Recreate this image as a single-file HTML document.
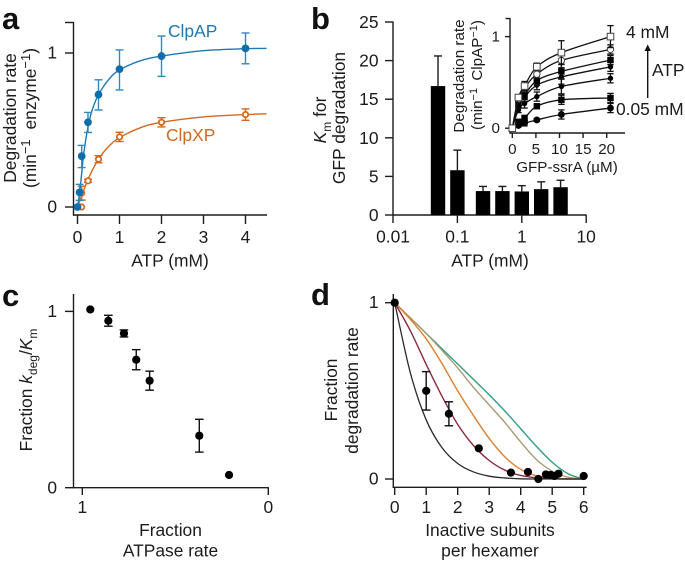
<!DOCTYPE html>
<html lang="en">
<head>
<meta charset="utf-8">
<title>ATP dependence of ClpAP and ClpXP degradation</title>
<style>
html,body{margin:0;padding:0;background:#fff;}
svg{display:block;filter:blur(.3px);}
text{font-family:"Liberation Sans",Arial,sans-serif;font-size:17.4px;fill:#1c1c1c;}
.ins{font-size:15.2px;}
.letter{font-size:31px;font-weight:bold;fill:#111;}
</style>
</head>
<body>
<svg id="fig" xmlns="http://www.w3.org/2000/svg" width="685" height="561" viewBox="0 0 685 561">
  <rect width="685" height="561" fill="#fff"/>
  <text class="letter" x="2" y="29">a</text>
  <text class="letter" x="311" y="29">b</text>
  <text class="letter" x="2" y="306">c</text>
  <text class="letter" x="311" y="305">d</text>

  <text transform="translate(16,118) rotate(-90)" text-anchor="middle">Degradation rate</text>
  <text transform="translate(36,118) rotate(-90)" text-anchor="middle">(min<tspan dy="-6" font-size="13">−1</tspan><tspan dy="6" dx="5"> enzyme</tspan><tspan dy="-6" font-size="13">−1</tspan><tspan dy="6">)</tspan></text>
  <text x="170" y="266.5" text-anchor="middle">ATP (mM)</text>
  <text x="168" y="37" style="fill:#1f78b4">ClpAP</text>
  <text x="166" y="141" style="fill:#d2691f">ClpXP</text>

  <text transform="translate(326,120) rotate(-90)" text-anchor="middle"><tspan font-style="italic">K</tspan><tspan dy="5" font-size="12">m</tspan><tspan dy="-5"> for</tspan></text>
  <text transform="translate(345,118) rotate(-90)" text-anchor="middle">GFP degradation</text>
  <text x="490" y="266.5" text-anchor="middle">ATP (mM)</text>
  <text class="ins" transform="translate(464,76) rotate(-90)" text-anchor="middle">Degradation rate</text>
  <text class="ins" transform="translate(482,75) rotate(-90)" text-anchor="middle">(min<tspan dy="-5" font-size="11">−1</tspan><tspan dy="5" dx="3"> ClpAP</tspan><tspan dy="-5" font-size="11">−1</tspan><tspan dy="5">)</tspan></text>
  <text class="ins" x="567" y="172" text-anchor="middle">GFP-ssrA (µM)</text>
  <text x="626" y="38">4 mM</text>
  <text x="616" y="115">0.05 mM</text>
  <text x="652" y="76">ATP</text>
  <line x1="647.7" y1="98" x2="647.7" y2="48" stroke="#111" stroke-width="1.4"/>
  <polygon points="647.7,44.5 644.5,51 650.9,51" fill="#111"/>

  <text transform="translate(32,390) rotate(-90)" text-anchor="middle">Fraction <tspan font-style="italic">k</tspan><tspan dy="5" font-size="12">deg</tspan><tspan dy="-5">/</tspan><tspan font-style="italic">K</tspan><tspan dy="5" font-size="12">m</tspan></text>
  <text x="170.5" y="536" text-anchor="middle">Fraction</text>
  <text x="170.5" y="556.5" text-anchor="middle">ATPase rate</text>

  <text transform="translate(337,390) rotate(-90)" text-anchor="middle">Fraction</text>
  <text transform="translate(358,390.5) rotate(-90)" text-anchor="middle">degradation rate</text>
  <text x="490" y="536" text-anchor="middle">Inactive subunits</text>
  <text x="490" y="556.5" text-anchor="middle">per hexamer</text>
</svg>
<script>
// Panel a
const aTicksX = [0, 1, 2, 3, 4];
const aTicksY = [0, 1];
const apDose = [0.05, 0.1, 0.25, 0.5, 1, 2, 4];
const apRate = [0.095, 0.33, 0.55, 0.73, 0.895, 0.98, 1.03];
const apHigh = [0.147, 0.40, 0.614, 0.826, 1.02, 1.11, 1.13];
const apLow = [0.043, 0.256, 0.484, 0.63, 0.76, 0.848, 0.93];
const apCurveX = [0, 0.05, 0.1, 0.15, 0.25, 0.35, 0.5, 0.75, 1, 1.5, 2, 3, 4, 4.5];
const apCurveY = [0, 0.09, 0.22, 0.35, 0.52, 0.63, 0.73, 0.83, 0.89, 0.95, 0.98, 1.015, 1.028, 1.03];
const xpDose = [0.05, 0.1, 0.25, 0.5, 1, 2, 4];
const xpRate = [0, 0.09, 0.17, 0.31, 0.455, 0.55, 0.6];
const xpErr = [0, 0.045, 0.01, 0.023, 0.03, 0.03, 0.037];
const xpCurveX = [0, 0.1, 0.25, 0.5, 0.75, 1, 1.5, 2, 3, 4, 4.5];
const xpCurveY = [0, 0.07, 0.18, 0.31, 0.395, 0.45, 0.515, 0.55, 0.585, 0.6, 0.605];

// Panel b
const bTicksY = [0, 5, 10, 15, 20, 25];
const bTicksX = [0.01, 0.1, 1, 10];
const bDose = [0.05, 0.1, 0.25, 0.5, 1, 2, 4];
const bKm = [16.7, 5.8, 3.1, 3.1, 3.05, 3.35, 3.6];
const bHigh = [20.6, 8.4, 3.7, 3.7, 3.8, 4.3, 4.5];

// Panel b inset
const insTicksX = [0, 5, 10, 15, 20];
const insTicksY = [0, 1];
const insConc = [0, 1.3, 2.6, 5.2, 10.4, 20.8];
const ins4mM = [0, 0.335, 0.46, 0.67, 0.825, 1.0];
const insB = [0, 0.32, 0.44, 0.59, 0.74, 0.86];
const insC = [0, 0.27, 0.36, 0.52, 0.62, 0.745];
const insD = [0, 0.25, 0.34, 0.47, 0.56, 0.67];
const insE = [0, 0.2, 0.27, 0.345, 0.455, 0.545];
const insF = [0, 0.07, 0.11, 0.24, 0.31, 0.33];
const ins005mM = [0, 0.03, 0.055, 0.09, 0.15, 0.22];
const insErr4mM = [0, 0.02, 0.05, 0.04, 0.13, 0.12];
const insErrMid = [0, 0.03, 0.05, 0.05, 0.08, 0.05];
const insErrLow = [0, 0.015, 0.03, 0.015, 0.05, 0.05];

// Panel c
const cTicksX = [1, 0];
const cTicksY = [0, 1];
const cAtpase = [0.957, 0.86, 0.776, 0.71, 0.638, 0.371, 0.211];
const cFrac = [1.011, 0.947, 0.875, 0.726, 0.607, 0.295, 0.072];
const cErr = [0, 0.031, 0.02, 0.057, 0.054, 0.093, 0];

// Panel d
const dTicksX = [0, 1, 2, 3, 4, 5, 6];
const dTicksY = [0, 1];
const dSub = [0, 1, 1.72, 2.67, 3.69, 4.23, 4.56, 4.8, 4.95, 5.07, 5.2, 6];
const dRate = [1, 0.5, 0.37, 0.174, 0.036, 0.04, 0, 0.026, 0.023, 0.017, 0.03, 0.017];
const dErr = [0, 0.109, 0.068, 0, 0, 0, 0, 0, 0, 0, 0, 0];
const dCurveX = [0, 0.5, 1, 1.5, 2, 2.5, 3, 3.5, 4, 4.5, 5, 5.5, 6];
const dBlack = [1, 0.6, 0.335, 0.178, 0.088, 0.04, 0.016, 0.006, 0.001, 0, 0, 0, 0];
const dRed = [1, 0.84, 0.65, 0.47, 0.31, 0.19, 0.105, 0.05, 0.02, 0.007, 0.002, 0, 0];
const dOrange = [1, 0.905, 0.795, 0.655, 0.5, 0.36, 0.23, 0.125, 0.055, 0.018, 0.004, 0.001, 0];
const dTan = [1, 0.913, 0.825, 0.73, 0.63, 0.52, 0.42, 0.32, 0.21, 0.11, 0.045, 0.01, 0];
const dGreen = [1, 0.913, 0.826, 0.739, 0.652, 0.565, 0.478, 0.385, 0.285, 0.185, 0.095, 0.03, 0];

const svg = document.getElementById('fig');
const NS = 'http://www.w3.org/2000/svg';
const INK = '#1c1c1c';

function mk(tag, props) {
  const node = document.createElementNS(NS, tag);
  for (const k in props) node.setAttribute(k, props[k]);
  svg.appendChild(node);
  return node;
}
function line(x1, y1, x2, y2, color, w, name) {
  const el = mk('line', {x1: x1, y1: y1, x2: x2, y2: y2, stroke: color, 'stroke-width': w});
  
  
  return el;
}
function label(x, y, str, anchor, cls, name) {
  const el = mk('text', {x: x, y: y, 'text-anchor': anchor});
  if (cls) el.setAttribute('class', cls);
  el.textContent = str;
  
  
  return el;
}
function smooth(xs, ys, sx, sy, name, color, w) {
  const p = xs.map((v, i) => [sx(v), sy(ys[i])]);
  let d = 'M' + p[0][0] + ' ' + p[0][1];
  for (let i = 0; i < p.length - 1; i++) {
    const a = p[Math.max(i - 1, 0)], b = p[i], c = p[i + 1], e = p[Math.min(i + 2, p.length - 1)];
    const k = 1 / 6;
    d += ' C' + (b[0] + (c[0] - a[0]) * k) + ' ' + (b[1] + (c[1] - a[1]) * k) + ' ' +
      (c[0] - (e[0] - b[0]) * k) + ' ' + (c[1] - (e[1] - b[1]) * k) + ' ' + c[0] + ' ' + c[1];
  }
  const el = mk('path', {d: d, fill: 'none', stroke: color, 'stroke-width': w});
  
  
  return el;
}
function errBar(x, yHi, yLo, cap, color, w, name) {
  line(x, yHi, x, yLo, color, w, name + '-stem');
  line(x - cap, yHi, x + cap, yHi, color, w, name + '-cap-top');
  line(x - cap, yLo, x + cap, yLo, color, w, name + '-cap-bottom');
}

/* ---------- Panel a ---------- */
const ax = v => 77.5 + v * 42;
const ay = v => 207 - v * 154;
line(73.5, 22, 73.5, 215.7, INK, 1.4, 'a-y-axis');
line(73, 215, 267, 215, INK, 1.4, 'a-x-axis');
line(65, 22.5, 73.5, 22.5, INK, 1.4, 'a-y-tick-top');
aTicksY.forEach(v => {
  line(65, ay(v), 73.5, ay(v), INK, 1.4, 'a-y-tick');
  label(57, ay(v) + 5.7, String(v), 'end', '', 'a-y-tick-label');
});
aTicksX.forEach(v => {
  line(ax(v), 215, ax(v), 224, INK, 1.4, 'a-x-tick');
  label(ax(v), 243, String(v), 'middle', '', 'a-x-tick-label');
});
smooth(xpCurveX, xpCurveY, ax, ay, 'clpxp-fit-curve', '#d2691f', 1.4);
xpDose.forEach((v, i) => {
  if (xpErr[i] > 0) errBar(ax(v), ay(xpRate[i] + xpErr[i]), ay(xpRate[i] - xpErr[i]), 4, '#d2691f', 1.4, 'clpxp-error-bar');
  const c = mk('circle', {cx: ax(v) + (i === 0 ? 2 : 0), cy: ay(xpRate[i]), r: 2.7, fill: '#fff', stroke: '#d2691f', 'stroke-width': 1.8});
  
  
});
smooth(apCurveX, apCurveY, ax, ay, 'clpap-fit-curve', '#1f78b4', 1.4);
apDose.forEach((v, i) => {
  errBar(ax(v), ay(apHigh[i]), ay(apLow[i]), 4, '#2e88c2', 1.4, 'clpap-error-bar');
  const c = mk('circle', {cx: ax(v), cy: ay(apRate[i]), r: 3.9, fill: '#0f6dab'});
  
  
});
const ap0 = mk('circle', {cx: ax(0), cy: ay(0), r: 3.9, fill: '#0f6dab'});



/* ---------- Panel b ---------- */
const bx = v => 393 + (Math.log10(v) + 2) * 64.4;
const by = v => 215 - v * 7.72;
line(393, 21.5, 393, 215.7, INK, 1.4, 'b-y-axis');
line(392.5, 215, 586.5, 215, INK, 1.4, 'b-x-axis');
bTicksY.forEach(v => {
  line(385, by(v), 393, by(v), INK, 1.4, 'b-y-tick');
  label(378.5, by(v) + 6, String(v), 'end', '', 'b-y-tick-label');
});
bTicksX.forEach(v => {
  line(bx(v), 215, bx(v), 223, INK, 1.4, 'b-x-tick');
  label(bx(v), 242.7, String(v), 'middle', '', 'b-x-tick-label');
});
bDose.forEach((v, i) => {
  const r = mk('rect', {x: bx(v) - 7.2, y: by(bKm[i]), width: 14.4, height: 215 - by(bKm[i]), fill: '#000'});
  
  
  line(bx(v), by(bHigh[i]), bx(v), by(bKm[i]), INK, 1.4, 'km-error-stem');
  line(bx(v) - 4, by(bHigh[i]), bx(v) + 4, by(bHigh[i]), INK, 1.4, 'km-error-cap');
});

/* ---------- Panel b inset ---------- */
const ix = v => 512.3 + v * 4.72;
const iy = v => 128.2 - v * 91.6;
line(510, 18, 510, 133.7, INK, 1.4, 'inset-y-axis');
line(509.5, 133, 625, 133, INK, 1.4, 'inset-x-axis');
line(505.5, 18.5, 510, 18.5, INK, 1.4, 'inset-y-tick-top');
insTicksY.forEach(v => {
  line(505, iy(v), 510, iy(v), INK, 1.4, 'inset-y-tick');
  label(500, iy(v) + 5, String(v), 'end', 'ins', 'inset-y-tick-label');
});
insTicksX.forEach(v => {
  line(ix(v), 133, ix(v), 138, INK, 1.4, 'inset-x-tick');
  label(ix(v), 154, String(v), 'middle', 'ins', 'inset-x-tick-label');
});
function insetSeries(vals, errs, name, kind) {
  smooth(insConc, vals, ix, iy, name + '-curve', '#111', 1.3);
  insConc.forEach((c, i) => {
    if (errs[i] > 0) errBar(ix(c), iy(vals[i] + errs[i]), iy(vals[i] - errs[i]), 3.2, '#111', 1.3, name + '-error-bar');
    let m;
    if (kind === 'open-square') m = mk('rect', {x: ix(c) - 3.3, y: iy(vals[i]) - 3.3, width: 6.6, height: 6.6, fill: '#fff', stroke: '#444', 'stroke-width': 1});
    else if (kind === 'open-circle') m = mk('circle', {cx: ix(c), cy: iy(vals[i]), r: 3.2, fill: '#fff', stroke: '#444', 'stroke-width': 1});
    else if (kind === 'square') m = mk('rect', {x: ix(c) - 3.2, y: iy(vals[i]) - 3.2, width: 6.4, height: 6.4, fill: '#000'});
    else if (kind === 'small') m = mk('circle', {cx: ix(c), cy: iy(vals[i]), r: 2.7, fill: '#000'});
    else m = mk('circle', {cx: ix(c), cy: iy(vals[i]), r: 3.4, fill: '#000'});
    
    
  });
}
insetSeries(ins005mM, insErrLow, 'inset-005mm', 'circle');
insetSeries(insF, insErrLow, 'inset-series-f', 'square');
insetSeries(insE, insErrMid, 'inset-series-e', 'small');
insetSeries(insD, insErrMid, 'inset-series-d', 'small');
insetSeries(insC, insErrMid, 'inset-series-c', 'square');
insetSeries(insB, insErrMid, 'inset-series-b', 'open-circle');
insetSeries(ins4mM, insErr4mM, 'inset-4mm', 'open-square');

/* ---------- Panel c ---------- */
const cx = v => 268.3 - v * 186;
const cy = v => 487.7 - v * 176.3;
line(73.5, 294, 73.5, 488.4, INK, 1.4, 'c-y-axis');
line(73, 487.7, 268.8, 487.7, INK, 1.4, 'c-x-axis');
cTicksY.forEach(v => {
  line(65, cy(v), 73.5, cy(v), INK, 1.4, 'c-y-tick');
  label(57, cy(v) + 5.7, String(v), 'end', '', 'c-y-tick-label');
});
cTicksX.forEach(v => {
  line(cx(v), 487.7, cx(v), 495, INK, 1.4, 'c-x-tick');
  label(cx(v), 513, String(v), 'middle', '', 'c-x-tick-label');
});
cAtpase.forEach((v, i) => {
  if (cErr[i] > 0) errBar(cx(v), cy(cFrac[i] + cErr[i]), cy(cFrac[i] - cErr[i]), 4.3, '#111', 1.4, 'c-error-bar');
  const c = mk('circle', {cx: cx(v), cy: cy(cFrac[i]), r: 4.1, fill: '#000'});
  
  
});

/* ---------- Panel d ---------- */
const dx = v => 394.7 + v * 31.5;
const dy = v => 479 - v * 176.3;
line(393.3, 294, 393.3, 488, INK, 1.4, 'd-y-axis');
line(392.8, 487.3, 586.7, 487.3, INK, 1.4, 'd-x-axis');
dTicksY.forEach(v => {
  line(385, dy(v), 393.3, dy(v), INK, 1.4, 'd-y-tick');
  label(378.5, dy(v) + 5.5, String(v), 'end', '', 'd-y-tick-label');
});
dTicksX.forEach(v => {
  line(dx(v), 487.3, dx(v), 495, INK, 1.4, 'd-x-tick');
  label(dx(v), 513, String(v), 'middle', '', 'd-x-tick-label');
});
smooth(dCurveX, dGreen, dx, dy, 'd-curve-green', '#2f9e80', 1.4);
smooth(dCurveX, dTan, dx, dy, 'd-curve-tan', '#a89a72', 1.4);
smooth(dCurveX, dOrange, dx, dy, 'd-curve-orange', '#d9812f', 1.4);
smooth(dCurveX, dRed, dx, dy, 'd-curve-red', '#8a2a3c', 1.4);
smooth(dCurveX, dBlack, dx, dy, 'd-curve-black', '#2a2a2a', 1.3);
dSub.forEach((v, i) => {
  if (dErr[i] > 0) errBar(dx(v), dy(dRate[i] + dErr[i]), dy(dRate[i] - dErr[i]), 4.3, '#111', 1.4, 'd-error-bar');
  const c = mk('circle', {cx: dx(v), cy: dy(dRate[i]), r: 4.1, fill: '#000'});
  
  
});
</script>
</body>
</html>
